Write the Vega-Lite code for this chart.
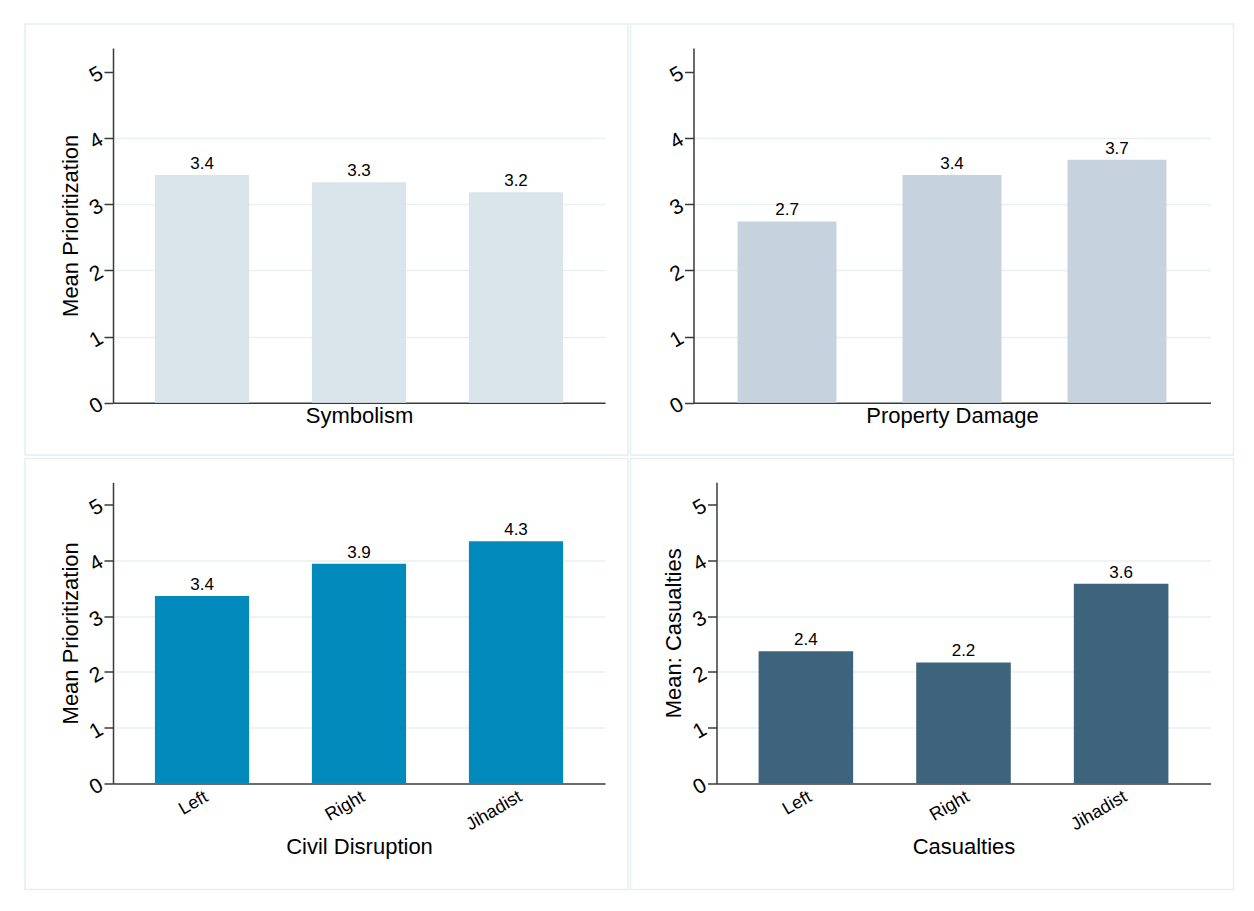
{
  "$schema": "https://vega.github.io/schema/vega-lite/v6.json",
  "background": "white",
  "padding": {"left": 24, "top": 23, "right": 21, "bottom": 22},
  "data": {
    "values": [
      {"panel": "Symbolism", "group": "Left", "value": 3.44},
      {"panel": "Symbolism", "group": "Right", "value": 3.33},
      {"panel": "Symbolism", "group": "Jihadist", "value": 3.18},
      {"panel": "Property Damage", "group": "Left", "value": 2.74},
      {"panel": "Property Damage", "group": "Right", "value": 3.44},
      {"panel": "Property Damage", "group": "Jihadist", "value": 3.67},
      {"panel": "Civil Disruption", "group": "Left", "value": 3.36},
      {"panel": "Civil Disruption", "group": "Right", "value": 3.94},
      {"panel": "Civil Disruption", "group": "Jihadist", "value": 4.34},
      {"panel": "Casualties", "group": "Left", "value": 2.37},
      {"panel": "Casualties", "group": "Right", "value": 2.17},
      {"panel": "Casualties", "group": "Jihadist", "value": 3.58}
    ]
  },
  "columns": 2,
  "spacing": {"row": 1.5, "column": 0.5},
  "concat": [
    {
      "width": 603,
      "height": 431,
      "transform": [{"filter": "datum.panel === 'Symbolism'"}],
      "encoding": {
        "x": {
          "field": "group", "type": "nominal", "sort": ["Left", "Right", "Jihadist"],
          "scale": {"range": [88, 580], "paddingInner": 0.4, "paddingOuter": 0.267},
          "axis": {"offset": -52.3, "labels": false, "ticks": false, "title": "Symbolism", "titlePadding": 3}
        },
        "y": {
          "field": "value", "type": "quantitative",
          "scale": {"domain": [0, 5.36], "range": [378.7, 24], "nice": false},
          "axis": {"offset": -88, "values": [0, 1, 2, 3, 4, 5], "format": "d", "title": "Mean Prioritization"}
        }
      },
      "layer": [
        {"mark": {"type": "bar", "color": "#d9e5eb"}},
        {"mark": {"type": "text", "baseline": "alphabetic", "dy": -6, "fontSize": 17, "font": "Liberation Sans", "color": "#000"},
         "encoding": {"text": {"field": "value", "type": "quantitative", "format": ".1f"}}}
      ]
    },
    {
      "width": 603,
      "height": 431,
      "transform": [{"filter": "datum.panel === 'Property Damage'"}],
      "encoding": {
        "x": {
          "field": "group", "type": "nominal", "sort": ["Left", "Right", "Jihadist"],
          "scale": {"range": [63, 580], "paddingInner": 0.4, "paddingOuter": 0.267},
          "axis": {"offset": -52.3, "labels": false, "ticks": false, "title": "Property Damage", "titlePadding": 3}
        },
        "y": {
          "field": "value", "type": "quantitative",
          "scale": {"domain": [0, 5.36], "range": [378.7, 24], "nice": false},
          "axis": {"offset": -63, "values": [0, 1, 2, 3, 4, 5], "format": "d", "title": null}
        }
      },
      "layer": [
        {"mark": {"type": "bar", "color": "#c6d3de"}},
        {"mark": {"type": "text", "baseline": "alphabetic", "dy": -6, "fontSize": 17, "font": "Liberation Sans", "color": "#000"},
         "encoding": {"text": {"field": "value", "type": "quantitative", "format": ".1f"}}}
      ]
    },
    {
      "width": 603,
      "height": 431,
      "transform": [{"filter": "datum.panel === 'Civil Disruption'"}],
      "encoding": {
        "x": {
          "field": "group", "type": "nominal", "sort": ["Left", "Right", "Jihadist"],
          "scale": {"range": [88, 580], "paddingInner": 0.4, "paddingOuter": 0.267},
          "axis": {"offset": -106, "ticks": false, "labelAngle": -30, "labelFontSize": 18, "labelPadding": 4, "title": "Civil Disruption", "titlePadding": 3}
        },
        "y": {
          "field": "value", "type": "quantitative",
          "scale": {"domain": [0, 5.4], "range": [325, 23.7], "nice": false},
          "axis": {"offset": -88, "values": [0, 1, 2, 3, 4, 5], "format": "d", "title": "Mean Prioritization"}
        }
      },
      "layer": [
        {"mark": {"type": "bar", "color": "#028abc"}},
        {"mark": {"type": "text", "baseline": "alphabetic", "dy": -6, "fontSize": 17, "font": "Liberation Sans", "color": "#000"},
         "encoding": {"text": {"field": "value", "type": "quantitative", "format": ".1f"}}}
      ]
    },
    {
      "width": 603,
      "height": 431,
      "transform": [{"filter": "datum.panel === 'Casualties'"}],
      "encoding": {
        "x": {
          "field": "group", "type": "nominal", "sort": ["Left", "Right", "Jihadist"],
          "scale": {"range": [86, 580], "paddingInner": 0.4, "paddingOuter": 0.267},
          "axis": {"offset": -106, "ticks": false, "labelAngle": -30, "labelFontSize": 18, "labelPadding": 4, "title": "Casualties", "titlePadding": 3}
        },
        "y": {
          "field": "value", "type": "quantitative",
          "scale": {"domain": [0, 5.4], "range": [325, 23.7], "nice": false},
          "axis": {"offset": -86, "values": [0, 1, 2, 3, 4, 5], "format": "d", "title": "Mean: Casualties"}
        }
      },
      "layer": [
        {"mark": {"type": "bar", "color": "#3e637c"}},
        {"mark": {"type": "text", "baseline": "alphabetic", "dy": -6, "fontSize": 17, "font": "Liberation Sans", "color": "#000"},
         "encoding": {"text": {"field": "value", "type": "quantitative", "format": ".1f"}}}
      ]
    }
  ],
  "config": {
    "view": {"stroke": "#e6eef1", "strokeWidth": 1.5},
    "axis": {
      "domainColor": "#3a3a3a",
      "domainWidth": 1.5,
      "tickColor": "#3a3a3a",
      "tickWidth": 1.5,
      "labelFont": "Liberation Sans",
      "labelColor": "#000",
      "titleFont": "Liberation Sans",
      "titleFontSize": 22,
      "titleFontWeight": "normal",
      "titleColor": "#000"
    },
    "axisX": {"grid": false},
    "axisY": {
      "tickSize": 9,
      "labelAngle": -30,
      "labelAlign": "right",
      "labelBaseline": "middle",
      "labelFontSize": 21,
      "labelPadding": 3,
      "titlePadding": 3,
      "grid": true,
      "gridColor": "#e8f0f2",
      "gridWidth": 1.5,
      "gridOpacity": {"condition": {"test": "datum.value <= 0 || datum.value >= 5", "value": 0}, "value": 1}
    }
  }
}
